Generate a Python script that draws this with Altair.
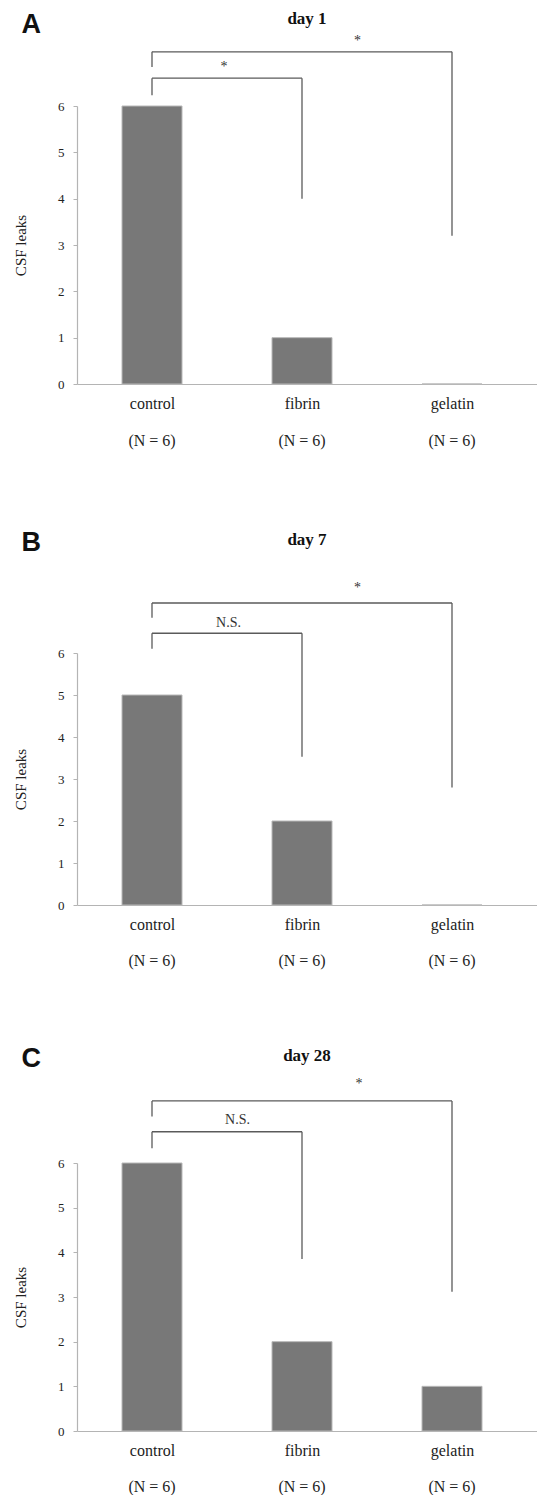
import json
import altair as alt
import pandas as pd

# ---------------- data ----------------
categories = ["control", "fibrin", "gelatin"]
cat_pos = [1, 2, 3]
n_counts = [6, 6, 6]

panel_letters = ["A", "B", "C"]
panel_days = ["day 1", "day 7", "day 28"]
leaks_day1 = [6, 1, 0]
leaks_day7 = [5, 2, 0]
leaks_day28 = [6, 2, 1]
leaks = [leaks_day1, leaks_day7, leaks_day28]

# comparisons: control vs fibrin, control vs gelatin
cmp_from = [1, 1]
cmp_to = [2, 3]
cmp_labels = [["*", "*"], ["N.S.", "*"], ["N.S.", "*"]]
cmp_top = [[6.6, 7.17], [6.47, 7.19], [6.70, 7.39]]
cmp_left_end = [[6.23, 6.84], [6.1, 6.84], [6.33, 7.04]]
cmp_right_end = [[4.0, 3.2], [3.53, 2.8], [3.85, 3.12]]
cmp_label_x = [[1.48, 2.37], [1.51, 2.37], [1.57, 2.38]]
cmp_label_y = [[6.85, 7.40], [6.72, 7.55], [6.96, 7.77]]

# ---------------- layout / style ----------------
PLOT_W = 460
HEIGHTS = [278, 252, 268]
N_OFFSET = [57, 56, 56]
TITLE_OFFSET = [6, 32, 12]
LETTER_DY = [29, 26, 26]
BAR_COLOR = "#787878"
LINE_COLOR = "#5a5a5a"
AXIS_COLOR = "#b4b4b4"
SERIF = "Liberation Serif"

x_scale = alt.Scale(domain=[0.5, 0.5 + PLOT_W / 150], nice=False, zero=False, padding=0)
y_scale = alt.Scale(domain=[0, 6], nice=False, padding=0)

label_expr = json.dumps(categories) + "[datum.value - 1]"


def panel(i):
    h = HEIGHTS[i]
    bars_df = pd.DataFrame({
        "pos": cat_pos,
        "cat": categories,
        "leaks": leaks[i],
        "n": [f"(N = {n})" for n in n_counts],
    })
    br_df = pd.DataFrame({
        "x1": cmp_from,
        "x2": cmp_to,
        "top": cmp_top[i],
        "lend": cmp_left_end[i],
        "rend": cmp_right_end[i],
        "label": cmp_labels[i],
        "lx": cmp_label_x[i],
        "ly": cmp_label_y[i],
    })

    x_axis = alt.Axis(values=cat_pos, labelExpr=label_expr, ticks=False, grid=False,
                      title=None, domainColor=AXIS_COLOR, domainWidth=1.2,
                      labelFont=SERIF, labelFontSize=16, labelColor="#222",
                      labelPadding=11)
    y_axis = alt.Axis(values=[0, 1, 2, 3, 4, 5, 6], format="d", grid=False,
                      title="CSF leaks", titleFont=SERIF, titleFontSize=15,
                      titleFontWeight="normal", titleColor="#222", titlePadding=29,
                      domainColor=AXIS_COLOR, domainWidth=1.2, tickColor=AXIS_COLOR,
                      tickSize=4, labelFont=SERIF, labelFontSize=13,
                      labelColor="#222", labelPadding=9)

    bars = alt.Chart(bars_df).mark_bar(size=60, color=BAR_COLOR, stroke="#b8b8b8",
                                        strokeWidth=1).encode(
        x=alt.X("pos:Q", scale=x_scale, axis=x_axis),
        y=alt.Y("leaks:Q", scale=y_scale, axis=y_axis),
    )
    n_text = alt.Chart(bars_df).mark_text(font=SERIF, fontSize=16, color="#222",
                                          baseline="middle").encode(
        x=alt.X("pos:Q", scale=x_scale),
        y=alt.value(h + N_OFFSET[i]),
        text="n:N",
    )
    hline = alt.Chart(br_df).mark_rule(color=LINE_COLOR, strokeWidth=1.3).encode(
        x=alt.X("x1:Q", scale=x_scale), x2="x2:Q",
        y=alt.Y("top:Q", scale=y_scale),
    )
    lleg = alt.Chart(br_df).mark_rule(color=LINE_COLOR, strokeWidth=1.3).encode(
        x=alt.X("x1:Q", scale=x_scale),
        y=alt.Y("top:Q", scale=y_scale), y2="lend:Q",
    )
    rleg = alt.Chart(br_df).mark_rule(color=LINE_COLOR, strokeWidth=1.3).encode(
        x=alt.X("x2:Q", scale=x_scale),
        y=alt.Y("top:Q", scale=y_scale), y2="rend:Q",
    )
    lab = alt.Chart(br_df).mark_text(font=SERIF, fontSize=14, color="#333",
                                     baseline="middle").encode(
        x=alt.X("lx:Q", scale=x_scale),
        y=alt.Y("ly:Q", scale=y_scale),
        text="label:N",
    )
    layer = alt.layer(bars, hline, lleg, rleg, lab, n_text).properties(
        width=PLOT_W, height=h,
        title=alt.Title(panel_days[i], font=SERIF, fontSize=17, fontWeight="bold",
                        color="#111", anchor="middle", offset=TITLE_OFFSET[i]),
    )
    return alt.vconcat(layer, title=alt.Title(
        panel_letters[i], font="Liberation Sans", fontSize=27, fontWeight="bold",
        color="#111", anchor="start", dx=8, dy=LETTER_DY[i], offset=0))


top_two = alt.vconcat(panel(0), panel(1), spacing=79)
chart = alt.vconcat(top_two, panel(2), spacing=75).properties(
    padding={"left": 5, "top": 2, "right": 0, "bottom": 0},
    background="white",
).configure_view(stroke=None)

chart.save("out.html", embed_options={"renderer": "svg", "actions": False})
